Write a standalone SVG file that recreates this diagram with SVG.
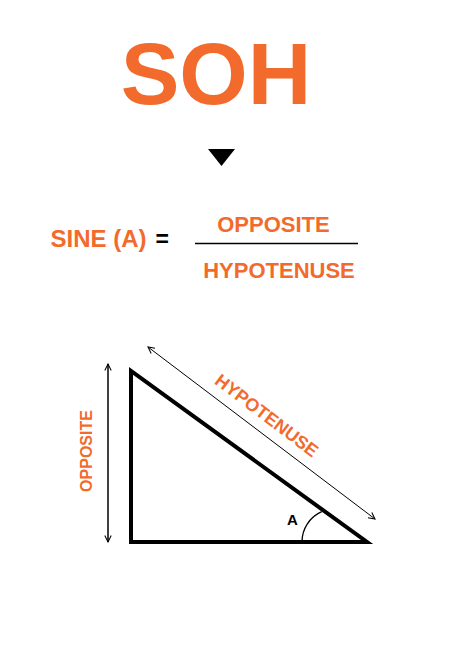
<svg xmlns="http://www.w3.org/2000/svg" width="449" height="646" viewBox="0 0 449 646">
<style>
.o{fill:#F26B2C;font-family:"Liberation Sans",Arial,sans-serif;font-weight:bold}
.k{fill:#000;font-family:"Liberation Sans",Arial,sans-serif;font-weight:bold}
.thin{stroke:#000;fill:none}
</style>
<defs>
<marker id="ah" viewBox="0 0 10 10" refX="9" refY="5" markerWidth="8" markerHeight="8" markerUnits="userSpaceOnUse" orient="auto-start-reverse">
<path d="M1,1 L9,5 L1,9" fill="none" stroke="#000" stroke-width="1.3"/>
</marker>
</defs>
<rect width="449" height="646" fill="#fff"/>
<g id="title">
<text class="o" x="216" y="104" font-size="88" text-anchor="middle">SOH</text>
<polygon points="208,149 235,149 221.5,166" fill="#000"/>
</g>
<g id="formula">
<text class="o" x="50.5" y="247" font-size="24">SINE (A)</text>
<text class="k" x="155.5" y="247" font-size="23">=</text>
<text class="o" x="273.5" y="232" font-size="22" text-anchor="middle">OPPOSITE</text>
<line x1="195" y1="243.5" x2="358" y2="243.5" stroke="#000" stroke-width="1.5"/>
<text class="o" x="279" y="278" font-size="22" text-anchor="middle">HYPOTENUSE</text>
</g>
<g id="triangle">
<path d="M131,371 L131,542 L367,542 Z" fill="none" stroke="#000" stroke-width="4" stroke-linejoin="miter"/>
<path d="M302,542 A33,33 0 0 1 321.7,511.7" fill="none" stroke="#000" stroke-width="1.3"/>
<text class="k" x="287" y="524.5" font-size="15">A</text>
</g>
<g id="connectors">
<line class="thin" x1="108" y1="364" x2="108" y2="542" stroke-width="1.5" marker-start="url(#ah)" marker-end="url(#ah)"/>
<line class="thin" x1="148" y1="347" x2="375" y2="519" stroke-width="1" marker-start="url(#ah)" marker-end="url(#ah)"/>
</g>
<g id="labels">
<text class="o" transform="translate(92,451) rotate(-90)" font-size="16" text-anchor="middle">OPPOSITE</text>
<text class="o" transform="translate(263,420.5) rotate(37.2)" font-size="18" text-anchor="middle">HYPOTENUSE</text>
</g>
</svg>
